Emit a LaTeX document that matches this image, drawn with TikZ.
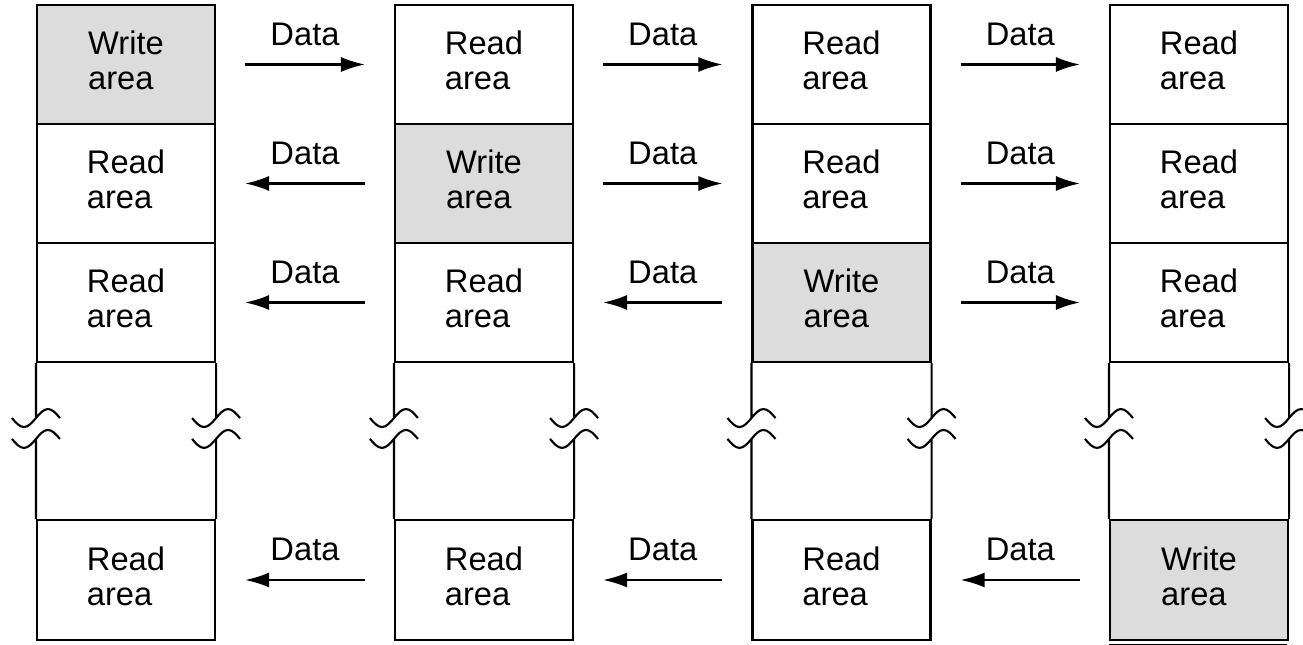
\documentclass[tikz,border=0pt]{standalone}
\usepackage{fontspec}
\setmainfont{Liberation Sans}
\usetikzlibrary{arrows.meta}
\definecolor{AreaGray}{HTML}{DCDCDC}
\newcommand{\cutmark}[2]{%
  \draw (#1) -- ++(0,-0.55) ++(-0.24,0) sin ++(0.12,-0.09) cos ++(0.12,0.09) sin ++(0.12,0.09) cos ++(0.12,-0.09);
  \draw (#2) -- ++(0,0.80) ++(-0.24,0) sin ++(0.12,-0.09) cos ++(0.12,0.09) sin ++(0.12,0.09) cos ++(0.12,-0.09);}

\begin{document}
\begin{tikzpicture}[line width=0.6pt,
  area/.style={draw, minimum width=1.78cm, minimum height=1.19cm, inner sep=0pt,
    align=left, text depth=0.08cm, font=\fontsize{9.3}{10}\selectfont},
  write/.style={area, fill=AreaGray},
  flow/.style={-{Latex[length=0.24cm, width=0.15cm]}, shorten <=0.29cm, shorten >=0.29cm},
  lbl/.style={font=\fontsize{9.3}{10}\selectfont, above=0.06cm}]
\clip (0,0) rectangle (13.03,6.45);

% Buffer 1
\node[write] (c1r1) at (1.26,5.805) {Write\\area};
\node[area] (c1r2) at (1.26,4.615) {Read\\area};
\node[area] (c1r3) at (1.26,3.425) {Read\\area};
\node[area, minimum height=1.20cm] (c1r4) at (1.26,0.65) {Read\\area};

% Buffer 2
\node[area] (c2r1) at (4.84,5.805) {Read\\area};
\node[write] (c2r2) at (4.84,4.615) {Write\\area};
\node[area] (c2r3) at (4.84,3.425) {Read\\area};
\node[area, minimum height=1.20cm] (c2r4) at (4.84,0.65) {Read\\area};

% Buffer 3
\node[area] (c3r1) at (8.415,5.805) {Read\\area};
\node[area] (c3r2) at (8.415,4.615) {Read\\area};
\node[write] (c3r3) at (8.415,3.425) {Write\\area};
\node[area, minimum height=1.20cm] (c3r4) at (8.415,0.65) {Read\\area};

% Buffer 4
\node[area] (c4r1) at (11.99,5.805) {Read\\area};
\node[area] (c4r2) at (11.99,4.615) {Read\\area};
\node[area] (c4r3) at (11.99,3.425) {Read\\area};
\node[write, minimum height=1.20cm] (c4r4) at (11.99,0.65) {Write\\area};
\draw (c4r4.south west) ++(0,-0.045) -- ++(1.78,0);

% Broken sides
\cutmark{c1r3.south west}{c1r4.north west}
\cutmark{c1r3.south east}{c1r4.north east}
\cutmark{c2r3.south west}{c2r4.north west}
\cutmark{c2r3.south east}{c2r4.north east}
\cutmark{c3r3.south west}{c3r4.north west}
\cutmark{c3r3.south east}{c3r4.north east}
\cutmark{c4r3.south west}{c4r4.north west}
\cutmark{c4r3.south east}{c4r4.north east}

% Data transfers, row 1
\draw[flow] (c1r1) -- node[lbl] {Data} (c2r1);
\draw[flow] (c2r1) -- node[lbl] {Data} (c3r1);
\draw[flow] (c3r1) -- node[lbl] {Data} (c4r1);

% Data transfers, row 2
\draw[flow] (c2r2) -- node[lbl] {Data} (c1r2);
\draw[flow] (c2r2) -- node[lbl] {Data} (c3r2);
\draw[flow] (c3r2) -- node[lbl] {Data} (c4r2);

% Data transfers, row 3
\draw[flow] (c2r3) -- node[lbl] {Data} (c1r3);
\draw[flow] (c3r3) -- node[lbl] {Data} (c2r3);
\draw[flow] (c3r3) -- node[lbl] {Data} (c4r3);

% Data transfers, last row
\draw[flow] (c2r4) -- node[lbl] {Data} (c1r4);
\draw[flow] (c3r4) -- node[lbl] {Data} (c2r4);
\draw[flow] (c4r4) -- node[lbl] {Data} (c3r4);

\end{tikzpicture}
\end{document}
